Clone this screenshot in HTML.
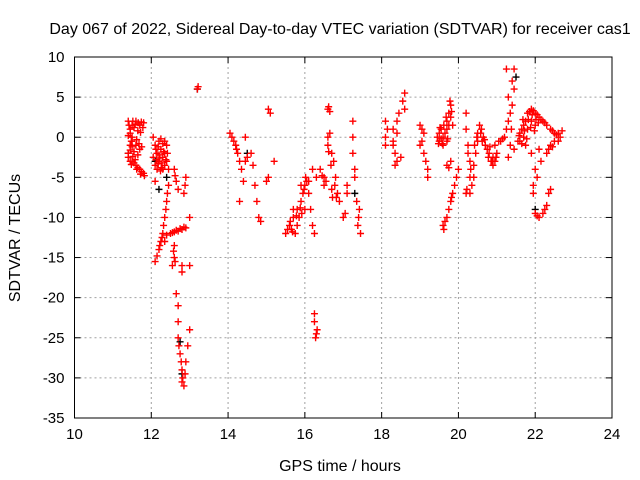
<!DOCTYPE html>
<html><head><meta charset="utf-8"><style>
body{margin:0;background:#fff;}
svg{display:block;font-family:"Liberation Sans",sans-serif;}
</style></head><body>
<svg id="chart" width="640" height="480">
<text x="340" y="34" text-anchor="middle" font-size="16">Day 067 of 2022, Sidereal Day-to-day VTEC variation (SDTVAR) for receiver cas1</text>
<text x="340" y="471" text-anchor="middle" font-size="16">GPS time / hours</text>
<text transform="translate(20,238) rotate(-90)" text-anchor="middle" font-size="16">SDTVAR / TECUs</text>
<g id="grid"></g><g id="axes"></g><g id="marks"></g>
</svg>
<script>
const xTicks=[10,12,14,16,18,20,22,24];
const yTicks=[10,5,0,-5,-10,-15,-20,-25,-30,-35];
const redSeries=[
[11.4,2],[11.45,1],[11.5,0],[11.45,-1],[11.4,-2],[11.45,-3],[11.5,1.5],[11.6,2],[11.7,1.5],[11.8,1.8],[11.55,1.2],[11.65,0.8],[11.42,1.5],[11.48,-0.5],
[11.4,-2.5],[11.5,-3],[11.6,-3.5],[11.7,-4],[11.8,-4.5],[11.5,-0.5],[11.6,-1],[11.7,-1.5],[11.55,-1.8],[11.65,-2.2],[11.75,-1.2],[11.55,-3.2],[11.65,-3.8],[11.75,-4.3],
[11.45,0.5],[11.52,2],[11.58,1.6],[11.62,-0.3],[11.68,-0.8],[11.72,0.6],[11.78,1.2],[11.45,-1.6],[11.52,-2.4],[11.58,-2.8],[11.48,-3.4],[11.62,-4],[11.72,-4.6],[11.82,-4.8],[11.4,0.2],[11.5,-1.2],[11.66,1.8],[11.74,1.9],
[12.05,0],[12.1,-1],[12.15,-2],[12.2,-3],[12.25,-1.5],[12.3,-2.5],[12.35,-3.5],[12.4,-1],[12.1,-3.5],[12.2,-0.5],[12.3,-4],[12.15,-4],[12.35,-2],[12.4,-3],[12.45,-4],[12.05,-2.5],[12.1,-5.5],[12.25,-0.2],[12.2,-2.2],
[12.12,-1.5],[12.18,-1.2],[12.22,-2.6],[12.28,-3.2],[12.32,-1.8],[12.38,-2.8],[12.26,-3.8],[12.18,-3.3],[12.3,-0.8],[12.35,-0.5],[12.42,-2],[12.14,-2.8],[12.24,-4.2],
[12.45,-6],[12.4,-8],[12.35,-10],[12.3,-12],[12.25,-13],[12.2,-14],[12.1,-15.5],[12.38,-9],[12.32,-11],[12.28,-12.5],[12.22,-13.5],[12.15,-14.8],[12.42,-7],
[12.5,-12],[12.6,-11.8],[12.7,-11.7],[12.8,-11.5],[12.9,-11.3],[12.4,-12.2],[12.55,-11.9],[12.65,-11.6],[12.75,-11.4],[12.85,-11.2],[12.35,-13],
[12.6,-13.5],[12.6,-15],[12.55,-16],[12.58,-14.2],[12.62,-15.5],[12.8,-16],[12.8,-16.8],[12.85,-7],[12.9,-5],[12.88,-6],
[12.6,-4],[12.65,-5.5],[12.7,-6.5],[12.62,-4.8],[13.0,-10],[13.0,-16],[13.2,6],[13.22,6.3],
[12.65,-19.5],[12.7,-21],[12.7,-23],[12.7,-25],[12.75,-27],[12.8,-29],[12.8,-30.5],[12.85,-31],[12.9,-28],[12.95,-26],[13,-24],[12.78,-28],[12.82,-30],[12.88,-29.5],[12.72,-26],
[14.05,0.5],[14.1,0],[14.2,-1],[14.25,-2],[14.3,-3],[14.35,-4],[14.4,-5.5],[14.3,-8],[14.45,-3],[14.5,-2.5],[14.6,-2],[14.7,-6],[14.75,-8],[14.8,-10],[14.45,0],[14.65,-3.5],[14.15,-0.5],[14.22,-1.5],[14.85,-10.5],
[15.05,3.5],[15.1,3],[15.0,-5.5],[15.05,-5],[15.2,-3],
[15.5,-12],[15.6,-11],[15.7,-10],[15.8,-9],[15.9,-8],[16,-6],[16.05,-5.5],[15.75,-12],[15.8,-11],[15.65,-11.5],[15.85,-10],[15.95,-7],[15.7,-9],[16.0,-9],[15.9,-6],
[15.55,-11.5],[15.62,-10.5],[15.68,-11.8],[15.78,-9.8],[15.88,-8.8],[15.92,-9.5],[15.98,-6.5],[16.02,-5],
[16.1,-7],[16.15,-9],[16.2,-11],[16.25,-12],[16.2,-4],[16.3,-5],[16.1,-5.5],
[16.25,-22],[16.25,-23],[16.3,-24.5],[16.28,-25],[16.32,-24],
[16.4,-4],[16.5,-5],[16.5,-6],[16.45,-4.8],[16.6,3.5],[16.65,3.2],[16.62,3.8],[16.6,0],[16.6,-1],[16.7,-2],[16.75,-3],[16.8,-5],[16.85,-7],[16.9,-8],[17,-10],[16.7,-6.5],[16.72,-7.5],[17.1,-6],[17.1,-7],[17.05,-9.5],[16.65,0.5],
[16.55,-5.5],[16.62,-1.8],[16.68,-3.5],[16.78,-6],[16.82,-7.5],
[17.25,2],[17.25,0],[17.25,-2],[17.3,-4],[17.3,-5],[17.35,-8],[17.4,-10],[17.45,-12],[17.38,-11],[17.42,-9],
[18.1,2],[18.1,0],[18.1,-1],[18.3,1],[18.4,2],[18.45,3],[18.4,0.5],[18.3,-1],[18.35,-2],[18.4,-3],[18.5,-2.5],[18.6,3.5],[18.6,5.5],[18.3,-0.5],[18.55,4.5],[18.35,-3.5],[18.15,1],
[19,1.5],[19.05,1],[19.05,-0.5],[19.1,-2],[19.15,-3],[19.2,-4],[19.2,-5],[19.0,-1],[19.1,0.5],
[19.5,-0.5],[19.6,0],[19.7,2],[19.75,3],[19.8,4],[19.6,-1],[19.7,1],[19.5,0.5],[19.55,-0.2],[19.65,0.5],[19.75,1.5],[19.8,2.5],[19.85,1.5],[19.7,-0.5],[19.55,1],[19.78,4.5],
[19.45,0],[19.52,1.2],[19.58,-0.8],[19.62,1.5],[19.68,2.5],[19.72,-0.2],[19.82,3.2],[19.48,-0.8],
[19.7,-3.5],[19.8,-3],[19.75,-3.8],[19.6,-11],[19.65,-10.5],[19.75,-9],[19.8,-8],[19.85,-7],[19.9,-6],[19.95,-5],[20,-4],[19.7,-10],[19.82,-7.5],[19.62,-11.5],
[20.2,3],[20.2,1],[20.25,-1],[20.3,-3],[20.3,-5],[20.35,-6],[20.2,-7],[20.3,-7],[20.4,-5],[20.45,-2],[20.5,0.5],[20.55,1.5],[20.6,1],[20.65,0],[20.7,-1],[20.8,-2],[20.9,-3.5],[21,-2],[21.05,-0.5],[20.95,-1],[20.85,-3],[20.22,-6.5],[20.4,-3.5],[20.5,-0.5],[20.75,-1.5],[20.9,-2.5],[20.95,-3],
[20.25,-2],[20.32,-4],[20.42,-1],[20.48,0],[20.58,0.5],[20.62,-0.5],[20.68,-0.3],[20.78,-2.5],[20.82,-1.2],[20.88,-3],[20.98,-2.5],
[21.1,-0.5],[21.2,0],[21.3,2],[21.35,3],[21.3,5],[21.25,8.5],[21.45,8.5],[21.4,7],[21.45,6],[21.4,4],[21.35,-1],[21.45,-1.5],[21.3,-2.5],[21.15,-0.2],[21.25,1],[21.38,1],
[21.55,-0.5],[21.6,0.5],[21.7,1.5],[21.8,3],[21.9,3.5],[22,3],[22.1,2.5],[22.2,2],[22.3,1.5],[22.4,1],[22.5,0.5],[22.6,0.5],[22.7,0.8],[22.5,-0.5],[22.4,-1],[22.3,-2],[22.35,-1.5],[21.65,1],[21.75,2],[21.85,3.2],[21.95,3.3],[22.05,2.8],[22.15,2.2],[22.25,1.8],[22.45,0.8],[22.55,0.3],[22.65,0],[22.6,-0.5],[22.45,-1.2],[21.6,-0.5],[21.7,0],[21.8,1],[21.9,2],[22.0,1.5],[21.75,-1],
[21.65,-0.8],[21.72,0.8],[21.78,-0.2],[21.82,2.2],[21.88,1.2],[21.92,2.8],[21.98,0.8],[22.02,2.2],[22.08,1.8],[21.58,0.2],[21.68,2.2],
[21.9,-2],[22.0,-4],[22.05,-5],[21.95,-6],[21.95,-7],[22,-9.5],[22.1,-10],[22.2,-9.5],[22.3,-8.5],[22.35,-7],[22.4,-6.5],[22.1,-1.5],[22.15,-3],[22.05,-9.8],[22.25,-9]
];
const blackSeries=[[11.4,-2],[12.1,-3],[12.4,-5],[12.75,-25.5],[12.8,-29.5],[13.2,6],[14.5,-2],[21.5,7.5],[22,-9],[17.3,-7],[12.2,-6.5]];
const X0=74.5,X1=612,Y0=57,Y1=418;
const xs=v=>X0+(v-10)/(24-10)*(X1-X0);
const ys=v=>Y1-(v+35)/(10+35)*(Y1-Y0);
const NS="http://www.w3.org/2000/svg";
function mk(tag,attrs,parent){const e=document.createElementNS(NS,tag);for(const k in attrs)e.setAttribute(k,attrs[k]);parent.appendChild(e);return e;}
const grid=document.getElementById('grid'),axes=document.getElementById('axes'),marks=document.getElementById('marks');
xTicks.forEach(t=>{const x=xs(t);
 if(t>10&&t<24){const g=mk('line',{x1:x,x2:x,y1:Y0,y2:Y1,stroke:'#a0a0a0','stroke-dasharray':'2,3'},grid);
 
 }
 mk('line',{x1:x,x2:x,y1:Y1,y2:Y1-6,stroke:'#000'},axes);
 mk('line',{x1:x,x2:x,y1:Y0,y2:Y0+6,stroke:'#000'},axes);
 const l=mk('text',{x:x,y:Y1+21,'text-anchor':'middle','font-size':'15'},axes);l.textContent=t;
 
 });
yTicks.forEach(t=>{const y=ys(t);
 if(t>-35&&t<10){const g=mk('line',{x1:X0,x2:X1,y1:y,y2:y,stroke:'#a0a0a0','stroke-dasharray':'2,3'},grid);
 
 }
 mk('line',{x1:X0,x2:X0+6,y1:y,y2:y,stroke:'#000'},axes);
 mk('line',{x1:X1,x2:X1-6,y1:y,y2:y,stroke:'#000'},axes);
 const l=mk('text',{x:X0-10,y:y+5,'text-anchor':'end','font-size':'15'},axes);l.textContent=t;
 
 });
const frame=mk('rect',{x:X0,y:Y0,width:X1-X0,height:Y1-Y0,fill:'none',stroke:'#000'},axes);


function plus(d,color,name){const x=xs(d[0]),y=ys(d[1]);
 const p=mk('path',{d:`M${x-3.5},${y}H${x+3.5}M${x},${y-3.5}V${y+3.5}`,stroke:color,'stroke-width':'1.4',fill:'none'},marks);
 
 }
blackSeries.forEach(d=>plus(d,'#000','black-point'));
redSeries.forEach(d=>plus(d,'#ff0000','red-point'));
</script>
</body></html>
